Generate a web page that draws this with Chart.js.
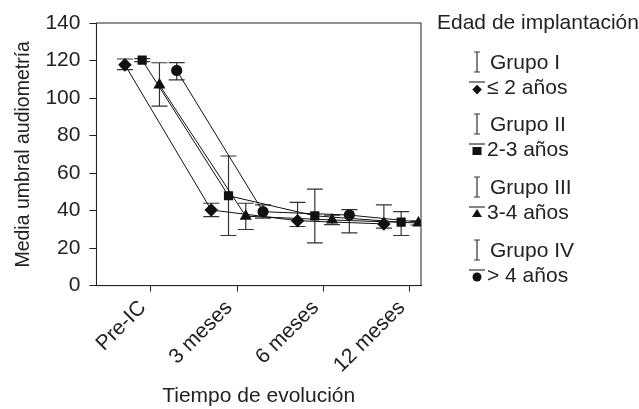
<!DOCTYPE html>
<html>
<head>
<meta charset="utf-8">
<script src="https://cdn.jsdelivr.net/npm/chart.js@4"></script>
<style>
  body { margin: 0; background: #fff; }
  #wrap { position: relative; width: 639px; height: 409px; font-family: "Liberation Sans", Arial, sans-serif; color: #222; }
  #legend div { position: absolute; font-size: 21px; line-height: 22px; white-space: nowrap; }
  #legend svg { position: absolute; }
</style>
</head>
<body>
<div id="wrap">
  <canvas id="myChart" width="639" height="409"></canvas>
  <div id="legend"></div>
</div>
<script>
// categorias del eje x
const categories = ["Pre-IC", "3 meses", "6 meses", "12 meses"];
const groups = ["Grupo I", "Grupo II", "Grupo III", "Grupo IV"];
const ages = ["\u2264 2 a\u00f1os", "2-3 a\u00f1os", "3-4 a\u00f1os", "> 4 a\u00f1os"];

// medias por grupo
const grupoI = [117.7, 40.3, 34.6, 32.9];
const grupoII = [120.2, 47.9, 37.2, 33.8];
const grupoIII = [107.0, 37.0, 35.0, 33.4];
const grupoIV = [114.7, 39.4, 37.6, 33.0];

// limites de las barras de error
const grupoIAlto = [120.8, 43.9, 44.4, 43.0];
const grupoIBajo = [115.1, 36.8, 31.5, 30.6];
const grupoIIAlto = [121.0, 69.1, 51.4, 39.4];
const grupoIIBajo = [119.4, 26.7, 22.8, 26.7];
const grupoIIIAlto = [118.8, 43.9, 37.5, 34.5];
const grupoIIIBajo = [95.7, 29.9, 32.5, 32.3];
const grupoIVAlto = [118.9, 43.0, 40.5, 35.0];
const grupoIVBajo = [109.7, 36.0, 28.1, 31.0];

const yTicks = [0, 20, 40, 60, 80, 100, 120, 140];

const means = [grupoI, grupoII, grupoIII, grupoIV];
const highs = [grupoIAlto, grupoIIAlto, grupoIIIAlto, grupoIVAlto];
const lows = [grupoIBajo, grupoIIBajo, grupoIIIBajo, grupoIVBajo];
const shapes = ["rectRot", "rect", "triangle", "circle"];
const radii = [6.8, 6.5, 7, 5.6];
const dodge = 0.2; // separacion horizontal entre grupos

const FONT = "'Liberation Sans', Arial, sans-serif";
const INK = "#222";

let datasets = means.map((m, g) => ({
  label: groups[g] + " " + ages[g],
  data: m.map((v, i) => ({ x: i + 1 + (g - 1.5) * dodge, y: v })),
  showLine: true,
  borderColor: "#111",
  borderWidth: 1,
  backgroundColor: "#111",
  pointStyle: shapes[g],
  pointRadius: radii[g],
  pointBorderWidth: 0,
  tension: 0,
}));

/* barras de error con las escalas del grafico */
const errorBars = {
  id: "errorBars",
  beforeDatasetsDraw(chart) {
    const { ctx, chartArea, scales } = chart;
    ctx.save();
    ctx.beginPath();
    ctx.rect(chartArea.left, chartArea.top, chartArea.right - chartArea.left, chartArea.bottom - chartArea.top);
    ctx.clip();
    ctx.strokeStyle = "#333";
    ctx.lineWidth = 1.2;
    means.forEach((m, g) => {
      m.forEach((v, i) => {
        const x = scales.x.getPixelForValue(i + 1 + (g - 1.5) * dodge);
        const y1 = scales.y.getPixelForValue(highs[g][i]);
        const y2 = scales.y.getPixelForValue(lows[g][i]);
        ctx.beginPath();
        ctx.moveTo(x, y1); ctx.lineTo(x, y2);
        ctx.moveTo(x - 8, y1); ctx.lineTo(x + 8, y1);
        ctx.moveTo(x - 8, y2); ctx.lineTo(x + 8, y2);
        ctx.stroke();
      });
    });
    ctx.restore();
  },
  afterDraw(chart) {
    const { ctx, chartArea } = chart;
    ctx.save();
    ctx.strokeStyle = INK;
    ctx.lineWidth = 1;
    ctx.strokeRect(chartArea.left, chartArea.top, chartArea.right - chartArea.left, chartArea.bottom - chartArea.top);
    ctx.restore();
  },
};

const ctx = document.getElementById("myChart");
new Chart(ctx, {
  type: "scatter",
  data: { datasets: datasets },
  plugins: [errorBars],
  options: {
    responsive: false,
    animation: false,
    layout: { padding: { top: 23, right: 218, left: 8, bottom: 0 } },
    plugins: { legend: { display: false }, tooltip: { enabled: false } },
    scales: {
      x: {
        type: "linear",
        min: 0.37,
        max: 4.13,
        afterBuildTicks: (s) => { s.ticks = categories.map((c, i) => ({ value: i + 1 })); },
        ticks: {
          callback: (v) => categories[Math.round(v) - 1],
          minRotation: 45,
          maxRotation: 45,
          labelOffset: -8,
          color: INK,
          padding: 4,
          font: { family: FONT, size: 21 },
        },
        grid: { drawOnChartArea: false, tickLength: 6, color: INK },
        border: { color: INK },
        title: { display: true, text: "Tiempo de evoluci\u00f3n", color: INK, font: { family: FONT, size: 21 }, padding: { top: 2, bottom: 0 } },
      },
      y: {
        min: 0,
        max: 140,
        afterBuildTicks: (s) => { s.ticks = yTicks.map((v) => ({ value: v })); },
        ticks: { color: INK, padding: 9, font: { family: FONT, size: 21 } },
        grid: { drawOnChartArea: false, tickLength: 7, color: INK },
        border: { color: INK },
        title: { display: true, text: "Media umbral audiometr\u00eda", color: INK, font: { family: FONT, size: 19.5 }, padding: { bottom: 1 } },
      },
    },
  },
});

/* leyenda a la derecha */
let legend = document.getElementById("legend");
let html = '<div style="left:437px;top:11px">Edad de implantaci\u00f3n</div>';
const rowY = [62, 124, 187, 250];
const icons = [
  '<path d="M7 13 L1 7 L7 1 L13 7 Z" transform="translate(2.5,4) scale(0.8)"/>',
  '<rect x="3.5" y="5" width="9" height="8"/>',
  '<path d="M8 4 L13 12 L3 12 Z"/>',
  '<circle cx="8" cy="9" r="4.5"/>',
];
groups.forEach((name, g) => {
  let y = rowY[g];
  html += '<svg style="left:469px;top:' + (y - 11) + 'px" width="16" height="22"><path d="M8 1 V21 M5 1 H11 M5 21 H11" stroke="#333" stroke-width="1.2" fill="none"/></svg>';
  html += '<div style="left:490px;top:' + (y - 11) + 'px">' + name + '</div>';
  let y2 = y + 25;
  html += '<svg style="left:469px;top:' + (y2 - 7) + 'px" width="16" height="16"><path d="M0 2 H16" stroke="#333" stroke-width="1.2"/><g fill="#111">' + icons[g] + '</g></svg>';
  html += '<div style="left:487px;top:' + (y2 - 11) + 'px">' + ages[g] + '</div>';
});
legend.innerHTML = html;
</script>
</body>
</html>
